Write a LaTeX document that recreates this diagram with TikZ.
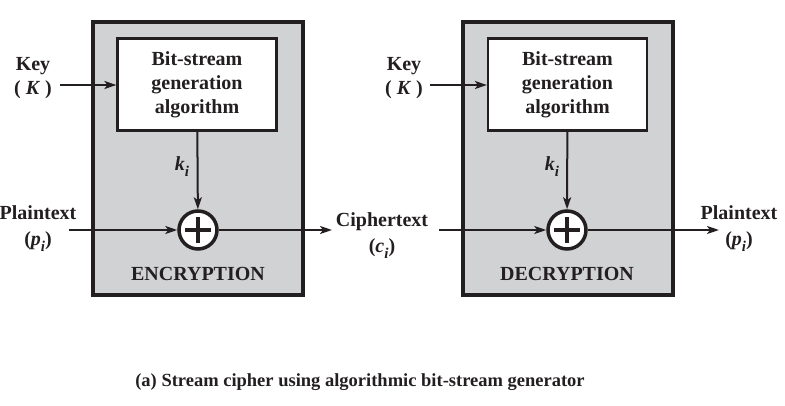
\documentclass[tikz,border=0pt]{standalone}
\usepackage{fontspec}
\setmainfont{Liberation Serif}
\usetikzlibrary{arrows.meta}
\definecolor{boxgray}{RGB}{209,210,212}
\definecolor{ink}{RGB}{35,31,32}
\newcommand{\itsub}[2]{\textit{#1}\raisebox{-0.3em}{\fontsize{15}{15}\selectfont\textit{#2}}}

\begin{document}
\begin{tikzpicture}[x=1pt,y=-1pt,font=\fontsize{20}{24}\selectfont\bfseries,
	>={Stealth[length=12pt,width=8pt,inset=3pt]}]
				\tikzstyle{outer}=[draw=ink,line width=3.2pt,fill=boxgray,
				minimum width=210pt,minimum height=273pt,inner sep=0pt]
				\tikzstyle{genbox}=[draw=ink,line width=2.2pt,fill=white,
				minimum width=159pt,minimum height=92pt,align=center,inner sep=0pt]
				\tikzstyle{xor}=[draw=ink,line width=3.5pt,fill=white,circle,
				minimum size=38pt,inner sep=0pt]
				\tikzstyle{lbl}=[text=ink,align=center,inner sep=0pt]
				\tikzstyle{wire}=[draw=ink,line width=2pt,->]
				\useasboundingbox (0,0) rectangle (785,406);

				% encryption side
				\node[outer] (enc) at (198,158.5) {};
				\node[genbox,text=ink] (genE) at (197,84.5) {Bit-stream\\generation\\algorithm};
				\node[xor] (xorE) at (198,230) {};
				\draw[ink,line width=3.5pt] (xorE.center) +(-13,0) -- +(13,0)
					(xorE.center) +(0,-13) -- +(0,13);
				\node[lbl] (encT) at (198,274) {ENCRYPTION};
				\node[lbl] (keyE) at (33,78) {Key\\( \textit{K} )};
				\node[lbl] (kiE) at (182,167) {\itsub{k}{i}};
				\node[lbl] (ptE) at (38,229) {Plaintext\\[2pt](\itsub{p}{i})};
				\coordinate (keyinE) at (60,85);
				\coordinate (ptinE) at (69,230);

				% decryption side
				\node[outer] (dec) at (568,158.5) {};
				\node[genbox,text=ink] (genD) at (567.5,84.5) {Bit-stream\\generation\\algorithm};
				\node[xor] (xorD) at (567,230) {};
				\draw[ink,line width=3.5pt] (xorD.center) +(-13,0) -- +(13,0)
					(xorD.center) +(0,-13) -- +(0,13);
				\node[lbl] (decT) at (567,274) {DECRYPTION};
				\node[lbl] (keyD) at (404,78) {Key\\( \textit{K} )};
				\node[lbl] (kiD) at (552,167) {\itsub{k}{i}};
				\node[lbl] (ctD) at (382,236) {Ciphertext\\[2pt](\itsub{c}{i})};
				\node[lbl] (ptD) at (739,229) {Plaintext\\[2pt](\itsub{p}{i})};
				\coordinate (keyinD) at (430,85);
				\coordinate (ctinD) at (439,230);
				\coordinate (ctoutE) at (332,230);
				\coordinate (ptoutD) at (719,230);

				% connectors
				\draw[wire] (keyinE) -- (keyinE -| genE.west);
				\draw[wire] (genE) -- (xorE);
				\draw[wire] (ptinE) -- (xorE);
				\draw[wire] (xorE) -- (ctoutE);
				\draw[wire] (keyinD) -- (keyinD -| genD.west);
				\draw[wire] (genD) -- (xorD);
				\draw[wire] (ctinD) -- (xorD);
				\draw[wire] (xorD) -- (ptoutD);

				% caption
				\node[lbl,font=\fontsize{18.5}{22}\selectfont\bfseries] (cap) at (360,382)
					{(a) Stream cipher using algorithmic bit-stream generator};
\end{tikzpicture}
\end{document}
